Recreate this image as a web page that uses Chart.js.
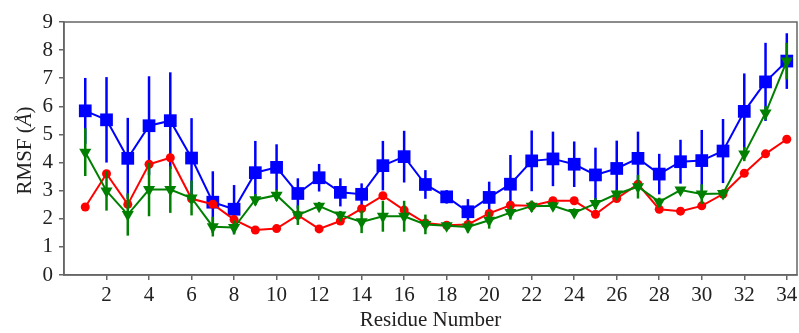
<!DOCTYPE html>
<html>
<head>
<meta charset="utf-8">
<script src="https://cdn.jsdelivr.net/npm/chart.js@4/dist/chart.umd.min.js"></script>
<style>
  html, body { margin: 0; padding: 0; background: #fff; }
  #wrap { width: 799px; height: 333px; }
</style>
</head>
<body>
<div id="wrap"><canvas id="rmsf" width="799" height="333"></canvas></div>
<script>
// residue numbers and RMSF values
const residues = [1,2,3,4,5,6,7,8,9,10,11,12,13,14,15,16,17,18,19,20,21,22,23,24,25,26,27,28,29,30,31,32,33,34];

const blueRmsf = [5.84,5.52,4.15,5.31,5.49,4.16,2.59,2.34,3.64,3.83,2.90,3.46,2.94,2.87,3.89,4.21,3.22,2.78,2.25,2.76,3.23,4.06,4.13,3.94,3.56,3.79,4.15,3.59,4.03,4.07,4.41,5.82,6.87,7.61];
const blueErr  = [1.17,1.52,1.44,1.76,1.72,1.42,1.10,0.86,1.13,0.82,0.54,0.49,0.50,0.39,0.88,0.92,0.51,0.24,0.45,0.56,1.04,1.08,0.97,0.81,0.97,0.99,0.95,0.72,0.78,1.09,1.14,1.35,1.39,0.99];

const redRmsf = [2.42,3.60,2.51,3.94,4.17,2.71,2.52,1.97,1.60,1.65,2.13,1.64,1.92,2.36,2.82,2.31,1.85,1.77,1.80,2.19,2.48,2.46,2.64,2.64,2.16,2.72,3.23,2.34,2.27,2.46,2.88,3.62,4.31,4.83];

const greenRmsf = [4.37,2.99,2.15,3.04,3.04,2.74,1.72,1.69,2.68,2.84,2.13,2.45,2.13,1.89,2.09,2.09,1.80,1.75,1.71,1.95,2.22,2.45,2.46,2.22,2.54,2.88,3.14,2.60,3.02,2.88,2.90,4.30,5.76,7.61];
const greenErr  = [0.85,0.70,0.75,0.95,0.83,0.62,0.35,0.25,0.20,0.20,0.35,0.15,0.15,0.40,0.55,0.55,0.35,0.10,0.20,0.30,0.25,0.20,0.15,0.15,0.20,0.15,0.42,0.15,0.10,0.35,0.15,0.25,0.25,0.65];

const xTicks = [2,4,6,8,10,12,14,16,18,20,22,24,26,28,30,32,34];
const yTicks = [0,1,2,3,4,5,6,7,8,9];

const FONT = "'Liberation Serif', 'Times New Roman', serif";
const AXIS_GREY = '#666666';

function toPoints(vals) {
  return residues.map((r, i) => ({ x: r, y: vals[i] }));
}

// vertical error bars, drawn just before their own series
const errorBars = {
  id: 'errorBars',
  beforeDatasetDraw(chart, args) {
    const ds = chart.data.datasets[args.index];
    if (!ds.errors) return;
    const { ctx, scales: { x, y } } = chart;
    ctx.save();
    ctx.strokeStyle = ds.borderColor;
    ctx.lineWidth = 2.5;
    ds.data.forEach((p, i) => {
      const e = ds.errors[i];
      const px = x.getPixelForValue(p.x);
      ctx.beginPath();
      ctx.moveTo(px, y.getPixelForValue(p.y - e));
      ctx.lineTo(px, y.getPixelForValue(p.y + e));
      ctx.stroke();
    });
    ctx.restore();
  }
};

// closed frame and the y title with an italic Å
const frame = {
  id: 'frame',
  afterDraw(chart) {
    const { ctx, chartArea: a } = chart;
    ctx.save();
    ctx.strokeStyle = AXIS_GREY;
    ctx.lineWidth = 1.5;
    ctx.strokeRect(a.left, a.top, a.right - a.left, a.bottom - a.top);

    ctx.translate(25, (a.top + a.bottom) / 2 + 2);
    ctx.rotate(-Math.PI / 2);
    ctx.fillStyle = '#222';
    ctx.textBaseline = 'middle';
    const parts = [['RMSF (', 'normal'], ['Å', 'italic'], [')', 'normal']];
    let w = 0;
    parts.forEach(([t, s]) => { ctx.font = s + ' 21px ' + FONT; w += ctx.measureText(t).width; });
    let cx = -w / 2;
    parts.forEach(([t, s]) => {
      ctx.font = s + ' 21px ' + FONT;
      ctx.fillText(t, cx, 0);
      cx += ctx.measureText(t).width;
    });
    ctx.restore();
  }
};

new Chart(document.getElementById('rmsf'), {
  type: 'line',
  data: {
    datasets: [
      {
        data: toPoints(greenRmsf),
        errors: greenErr,
        borderColor: '#008000',
        backgroundColor: '#008000',
        borderWidth: 2,
        pointStyle: 'triangle',
        rotation: 180,
        pointRadius: 7,
        pointBorderWidth: 0
      },
      {
        data: toPoints(redRmsf),
        borderColor: '#ff0000',
        backgroundColor: '#ff0000',
        borderWidth: 2,
        pointStyle: 'circle',
        pointRadius: 4.5,
        pointBorderWidth: 0
      },
      {
        data: toPoints(blueRmsf),
        errors: blueErr,
        borderColor: '#0000ff',
        backgroundColor: '#0000ff',
        borderWidth: 2,
        pointStyle: 'rect',
        pointRadius: 9,
        pointBorderWidth: 0
      }
    ]
  },
  options: {
    responsive: false,
    animation: false,
    devicePixelRatio: 1,
    layout: { autoPadding: false, padding: { top: 22, right: 2, left: 0, bottom: 0 } },
    plugins: { legend: { display: false }, tooltip: { enabled: false } },
    scales: {
      x: {
        type: 'linear',
        min: 0,
        max: 34.48,
        afterBuildTicks: (axis) => { axis.ticks = xTicks.map(v => ({ value: v })); },
        afterFit: (axis) => { axis.height = 58; axis.paddingRight = 0; axis.paddingLeft = 0; },
        grid: { display: true, drawOnChartArea: false, drawTicks: true, tickLength: 5, color: AXIS_GREY, lineWidth: 1.5 },
        border: { display: true, color: AXIS_GREY, width: 1.5 },
        ticks: { color: '#222', font: { family: FONT, size: 21 }, padding: 3, maxRotation: 0, autoSkip: false },
        title: { display: true, text: 'Residue Number', color: '#222', font: { family: FONT, size: 21 }, padding: { top: 0, bottom: 0 } }
      },
      y: {
        min: 0,
        max: 9,
        afterBuildTicks: (axis) => { axis.ticks = yTicks.map(v => ({ value: v })); },
        afterFit: (axis) => { axis.width = 64; axis.paddingTop = 0; axis.paddingBottom = 0; },
        grid: { display: true, drawOnChartArea: false, drawTicks: true, tickLength: 5, color: AXIS_GREY, lineWidth: 1.5 },
        border: { display: true, color: AXIS_GREY, width: 1.5 },
        ticks: { color: '#222', font: { family: FONT, size: 21 }, padding: 6, autoSkip: false }
      }
    }
  },
  plugins: [errorBars, frame]
});
</script>
</body>
</html>
